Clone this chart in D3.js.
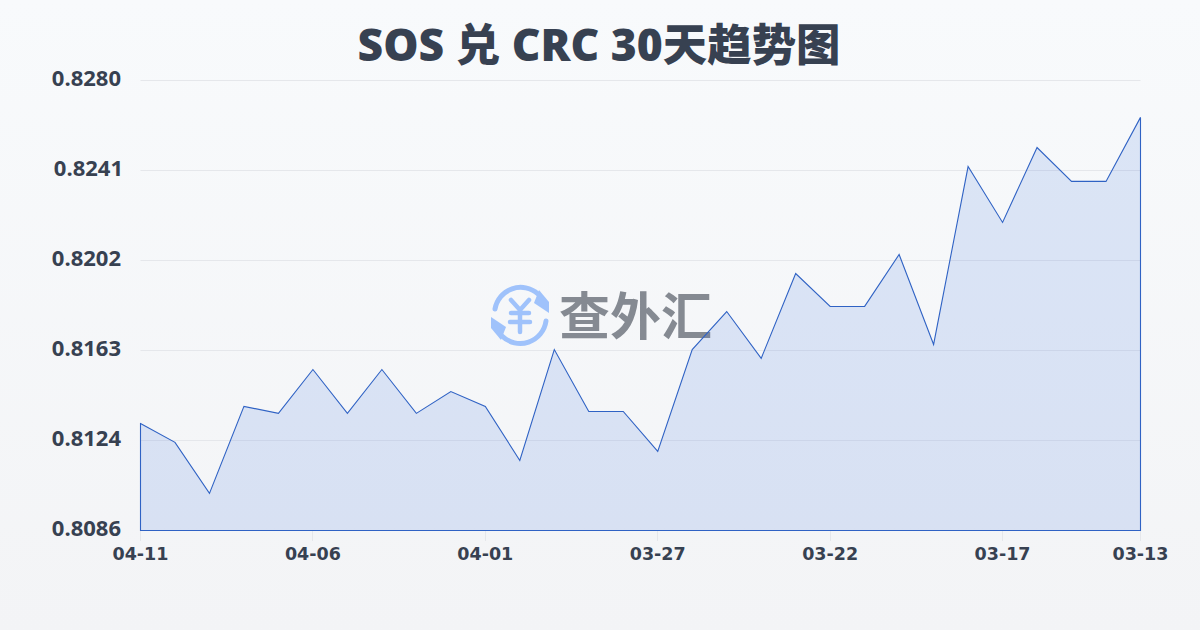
<!DOCTYPE html>
<html><head><meta charset="utf-8">
<script src="https://cdn.jsdelivr.net/npm/d3@7/dist/d3.min.js"></script>
<style>html,body{margin:0;padding:0;background:#f8fafc}svg{display:block}</style>
</head><body><svg id="c" width="1200" height="630"></svg>
<script>
const dates=["04-11","04-10","04-09","04-08","04-07","04-06","04-05","04-04","04-03","04-02","04-01","03-31","03-30","03-29","03-28","03-27","03-26","03-25","03-24","03-23","03-22","03-21","03-20","03-19","03-18","03-17","03-16","03-15","03-14","03-13"];
const rates=[.81321,.8124,.8102,.81395,.81365,.81554,.81365,.81554,.81365,.81459,.81395,.81162,.8164,.81373,.81373,.81201,.8164,.81804,.81602,.81968,.81826,.81826,.8205,.81662,.82429,.82188,.82511,.82365,.82365,.82641];
const yTicks=[.8086,.8124,.8163,.8202,.8241,.828];
const xTickLabels=["04-11","04-06","04-01","03-27","03-22","03-17","03-13"];
const titleText="SOS 兑 CRC 30天趋势图";
const svg=d3.select("#c");
const defs=svg.append("defs");
const bg=defs.append("linearGradient").attr("id","bg").attr("x1",0).attr("x2",0).attr("y1",0).attr("y2",1);
bg.append("stop").attr("offset",0).attr("stop-color","#f8fafc");
bg.append("stop").attr("offset",1).attr("stop-color","#f3f4f6");
svg.append("rect").attr("width",1200).attr("height",630).attr("fill","url(#bg)");
const x=d3.scaleLinear().domain([0,dates.length-1]).range([140.5,1140.5]);
const y=d3.scaleLinear().domain([.8086,.828]).range([530.5,80.5]);
const ys=[530.5,440.5,350.5,260.5,170.5,80.5];
const F='"Open Sans","Noto Sans CJK SC",sans-serif';
const dark="#374151";
svg.append("text").attr("x",599).attr("y",61).attr("text-anchor","middle").attr("font-family",F).attr("font-weight",800).attr("font-size",44.4).attr("fill","#374151").text(titleText);
const grid=svg.append("g");
yTicks.forEach((t,i)=>{ if(i>0) grid.append("line").attr("x1",140.5).attr("x2",1140.5).attr("y1",ys[i]).attr("y2",ys[i]).attr("stroke","#e5e7eb").attr("stroke-width",1);
 svg.append("text").attr("x",t===.8241?123:121).attr("y",ys[i]+5).attr("text-anchor","end").attr("font-family",F).attr("font-weight",700).attr("font-size",22).attr("fill",dark).text(t.toFixed(4));});
const wm=svg.append("g").attr("id","wm");
const ic=wm.append("g").attr("transform","translate(520,315)").attr("fill","none").attr("stroke","#9fc2fb").attr("stroke-width",5).attr("stroke-linecap","round");
ic.append("path").attr("d","M-25,-6 A26,26 0 0 1 18,-21");
ic.append("path").attr("d","M26,6 A26,26 0 0 1 -18,21");
ic.append("path").attr("d","M19,-25 L29,-13 L29,-2 L14,-12 Z").attr("fill","#9fc2fb").attr("stroke","none");
ic.append("path").attr("d","M-19,25 L-29,13 L-29,2 L-14,12 Z").attr("fill","#9fc2fb").attr("stroke","none");
ic.append("path").attr("d","M-9,-15 L0,-5 L9,-15 M-9,-2 H9 M-10,7 H10 M0,-5 V17").attr("stroke-width",4.5);
wm.append("text").attr("x",559).attr("y",335).attr("font-family",'"Noto Sans CJK SC"').attr("font-weight",700).attr("font-size",51).attr("fill","#858a92").text("查外汇");
const area=d3.area().x((d,i)=>x(i)).y0(y(.8086)).y1(d=>y(d));
svg.append("path").datum(rates).attr("d",d=>area(d)).attr("fill","#3b6fe0").attr("fill-opacity",.15).attr("stroke","#2f62c4").attr("stroke-width",1.1);
xTickLabels.forEach(l=>{const i=dates.indexOf(l);const px=Math.round(x(i)-.5)+.5;
 svg.append("line").attr("x1",px).attr("x2",px).attr("y1",531).attr("y2",541).attr("stroke","#e5e7eb");
 svg.append("text").attr("x",x(i)).attr("y",560).attr("text-anchor","middle").attr("font-family",'"DejaVu Sans"').attr("font-weight",700).attr("font-size",17.5).attr("fill",dark).text(l);});
</script></body></html>
